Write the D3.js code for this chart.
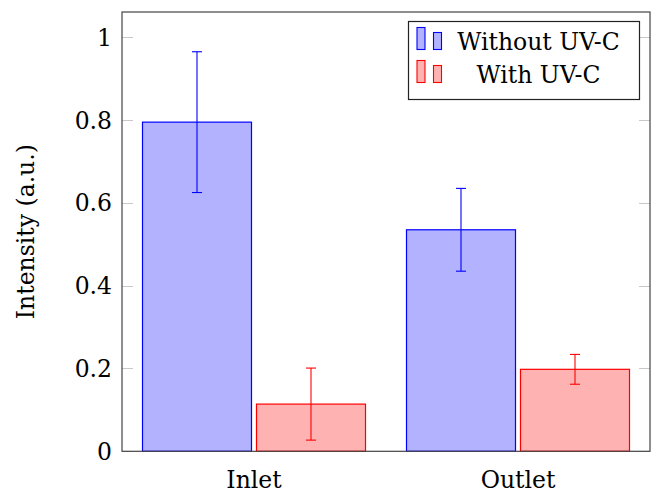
<!DOCTYPE html>
<html>
<head>
<meta charset="utf-8">
<script src="https://cdn.jsdelivr.net/npm/d3@7"></script>
<style>
  html, body { margin: 0; padding: 0; background: #fff; }
  svg { display: block; }
  text { font-family: "DejaVu Serif", serif; fill: #000; }
</style>
</head>
<body>
<svg id="chart" width="652" height="494"></svg>
<script>
// ---- data ----
const categories = ["Inlet", "Outlet"];
const seriesNames = ["Without UV-C", "With UV-C"];
const withoutValues = [0.795, 0.535];
const withoutErrors = [0.170, 0.100];
const withValues = [0.114, 0.198];
const withErrors = [0.087, 0.036];
const yTicks = [0, 0.2, 0.4, 0.6, 0.8, 1];
const yLabel = "Intensity (a.u.)";

const seriesStyle = [
  { fill: "#b2b2ff", stroke: "#0000ff" },
  { fill: "#ffb2b2", stroke: "#ff0000" }
];
const seriesValues = [withoutValues, withValues];
const seriesErrors = [withoutErrors, withErrors];

// ---- layout ----
const mLeft = 122, mRight = 650, mTop = 12, mBottom = 451.3;
const fs = 23.5;
const svg = d3.select("#chart");

const y = d3.scaleLinear().domain([0, 1.061]).range([mBottom, mTop]);
const x = d3.scaleBand().domain(categories).range([mLeft, mRight]).padding(0);
const xSub = d3.scaleBand().domain(seriesNames).range([-111.5, 111.5]).paddingInner(5 / 114).paddingOuter(0);

// ticks (inside, left and right)
const tickG = svg.append("g");
yTicks.forEach(t => {
  const yy = Math.round(y(t)) + 0.5;
  tickG.append("line").attr("x1", mLeft).attr("x2", mLeft + 11).attr("y1", yy).attr("y2", yy)
    .attr("stroke", "#c8c8c8").attr("stroke-width", 1);
  tickG.append("line").attr("x1", mRight - 11).attr("x2", mRight).attr("y1", yy).attr("y2", yy)
    .attr("stroke", "#c8c8c8").attr("stroke-width", 1);
  svg.append("text").attr("x", 112).attr("y", y(t)).attr("dy", "0.36em")
    .attr("text-anchor", "end").attr("font-size", fs).text(d3.format("")(t));
});

// bars
seriesNames.forEach((s, si) => {
  const g = svg.append("g");
  categories.forEach((c, ci) => {
    const cx = x(c) + x.bandwidth() / 2;
    const x0 = cx + xSub(s);
    const v = seriesValues[si][ci];
    g.append("rect")
      .attr("x", x0).attr("y", y(v))
      .attr("width", xSub.bandwidth()).attr("height", y(0) - y(v))
      .attr("fill", seriesStyle[si].fill).attr("stroke", seriesStyle[si].stroke).attr("stroke-width", 1.2);
    const mx = x0 + xSub.bandwidth() / 2;
    const e = seriesErrors[si][ci];
    const hi = y(v + e), lo = y(v - e);
    g.append("line").attr("x1", mx).attr("x2", mx).attr("y1", hi).attr("y2", lo)
      .attr("stroke", seriesStyle[si].stroke).attr("stroke-width", 1.1);
    [hi, lo].forEach(yy => {
      g.append("line").attr("x1", mx - 5).attr("x2", mx + 5).attr("y1", yy).attr("y2", yy)
        .attr("stroke", seriesStyle[si].stroke).attr("stroke-width", 1.1);
    });
  });
});

// frame
svg.append("rect").attr("x", mLeft).attr("y", mTop).attr("width", mRight - mLeft).attr("height", mBottom - mTop)
  .attr("fill", "none").attr("stroke", "#444").attr("stroke-width", 1.2);

// x labels
categories.forEach(c => {
  svg.append("text").attr("x", x(c) + x.bandwidth() / 2).attr("y", 488)
    .attr("text-anchor", "middle").attr("font-size", fs).text(c);
});

// y label
svg.append("text")
  .attr("transform", `translate(34, ${(mTop + mBottom) / 2}) rotate(-90)`)
  .attr("text-anchor", "middle").attr("font-size", fs).text(yLabel);

// legend
const lg = svg.append("g");
lg.append("rect").attr("x", 408.5).attr("y", 21.5).attr("width", 231).attr("height", 78)
  .attr("fill", "#fff").attr("stroke", "#222").attr("stroke-width", 1.2);
const rowBase = [50, 83];
seriesNames.forEach((s, i) => {
  const b = rowBase[i];
  lg.append("rect").attr("x", 417).attr("y", b - 22.5).attr("width", 8).attr("height", 22)
    .attr("fill", seriesStyle[i].fill).attr("stroke", seriesStyle[i].stroke).attr("stroke-width", 1.1);
  lg.append("rect").attr("x", 433.5).attr("y", b - 17.5).attr("width", 8).attr("height", 17)
    .attr("fill", seriesStyle[i].fill).attr("stroke", seriesStyle[i].stroke).attr("stroke-width", 1.1);
  lg.append("text").attr("x", 538.5).attr("y", b).attr("text-anchor", "middle")
    .attr("font-size", fs).text(s);
});
</script>
</body>
</html>
